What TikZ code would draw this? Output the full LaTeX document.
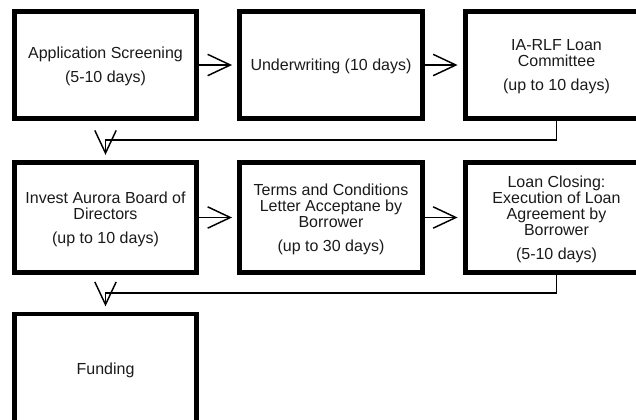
\documentclass[tikz,border=0pt]{standalone}
\usepackage{fontspec}
\setmainfont{Liberation Sans}
\usepackage{xcolor}
\usetikzlibrary{arrows.meta}
\definecolor{ink}{HTML}{000000}
\definecolor{txt}{HTML}{1A1A1A}

\begin{document}
\begin{tikzpicture}[x=0.75pt,y=-0.75pt,
    every node/.style={font=\fontsize{12pt}{12pt}\selectfont,text=txt},
    stage/.style={draw=ink,line width=3.5pt,minimum width=136.9pt,minimum height=80pt,align=center,inner sep=0pt,yshift=-1.5pt,text depth=0pt},
    tall/.style={minimum height=82.5pt},
    flow/.style={draw=ink,line width=1.1pt,-{Straight Barb[length=17pt,width=16pt]},shorten >=4pt}]
        \useasboundingbox (0,0) rectangle (636,419);
        % first row
        \node[stage] (apply) at (105.5,63) {Application Screening\\[6pt](5-10 days)};
        \node[stage] (under) at (331,63) {Underwriting (10 days)};
        \node[stage] (committee) at (556.5,63) {IA-RLF Loan\\Committee\\[6pt](up to 10 days)};
        % second row
        \node[stage,tall] (board) at (105.5,215.5) {Invest Aurora Board of\\Directors\\[6pt](up to 10 days)};
        \node[stage,tall] (terms) at (331,215.5) {Terms and Conditions\\Letter Acceptane by\\Borrower\\[6pt](up to 30 days)};
        \node[stage,tall] (closing) at (556.5,215.5) {Loan Closing:\\Execution of Loan\\Agreement by\\Borrower\\[6pt](5-10 days)};
        % last row
        \node[stage,tall] (funding) at (105.5,367) {Funding};
        \coordinate (bend1) at (331,140);
        \coordinate (bend2) at (331,293);
        \draw[flow] (apply) -- (under);
        \draw[flow] (under) -- (committee);
        \draw[flow] (committee.south) |- (bend1) -| (board.north);
        \draw[flow] (board) -- (terms);
        \draw[flow] (terms) -- (closing);
        \draw[flow] (closing.south) |- (bend2) -| (funding.north);
      \end{tikzpicture}
\end{document}
